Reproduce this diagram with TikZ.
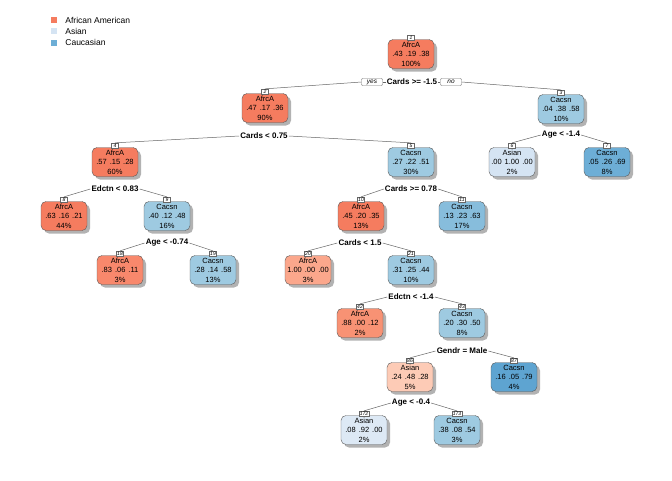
\documentclass[tikz,border=0pt]{standalone}
\usepackage{fontspec}
\setmainfont{Liberation Sans}
\usetikzlibrary{positioning,shadows}
\definecolor{afrA}{HTML}{F57C5F}
\definecolor{afrB}{HTML}{F8886C}
\definecolor{afrC}{HTML}{F89274}
\definecolor{afrD}{HTML}{FBA78C}
\definecolor{asnA}{HTML}{D5E4F3}
\definecolor{asnB}{HTML}{DDE9F5}
\definecolor{asnP}{HTML}{FDCBB6}
\definecolor{cauA}{HTML}{9ECAE1}
\definecolor{cauB}{HTML}{87BDDC}
\definecolor{cauC}{HTML}{6DAED6}
\definecolor{cauD}{HTML}{5EA4D1}
\newcommand{\prs}[3]{#1\hspace{3pt}#2\hspace{3pt}#3}

\begin{document}
\begin{tikzpicture}[x=1pt,y=-1pt,
    leaf/.style={draw=black!65, rounded corners=5pt, minimum width=46pt, minimum height=29pt,
        inner xsep=1.5pt, inner ysep=2pt, align=center, font=\fontsize{7.5}{9.5}\selectfont,
        drop shadow={shadow xshift=3pt, shadow yshift=-3pt, opacity=.3, fill=black}},
    num/.style={draw=black!60, fill=white, inner sep=.6pt, minimum width=7pt, minimum height=5.5pt,
        font=\fontsize{5}{5}\selectfont\itshape},
    split/.style={inner sep=1pt, font=\fontsize{8}{10}\selectfont\bfseries},
    yesno/.style={draw=black!55, fill=white, rounded corners=1pt, minimum width=21pt, minimum height=7pt,
        inner sep=.5pt, font=\fontsize{6.5}{7}\selectfont\itshape},
    edge/.style={draw=black!60, line width=.5pt},
    key/.style={minimum size=6pt, inner sep=0pt},
    keytext/.style={inner sep=0pt, anchor=west, font=\fontsize{8.5}{10}\selectfont}]
    \useasboundingbox (0,0) rectangle (672,480);

    % legend
    \node[key, fill=afrA] (kA) at (54,20) {};
    \node[key, fill=asnA, below=5pt of kA] (kB) {};
    \node[key, fill=cauC, below=5pt of kB] (kC) {};
    \node[keytext, right=8pt of kA] {African American};
    \node[keytext, right=8pt of kB] {Asian};
    \node[keytext, right=8pt of kC] {Caucasian};

    % tree nodes
    \node[leaf, fill=afrA] (n1) at (411,54) {AfrcA\\\prs{.43}{.19}{.38}\\100\%};
    \node[leaf, fill=afrA] (n2) at (265,108) {AfrcA\\\prs{.47}{.17}{.36}\\90\%};
    \node[leaf, fill=cauA] (n3) at (561,109) {Cacsn\\\prs{.04}{.38}{.58}\\10\%};
    \node[leaf, fill=afrA] (n4) at (115,162) {AfrcA\\\prs{.57}{.15}{.28}\\60\%};
    \node[leaf, fill=cauA] (n5) at (411,162) {Cacsn\\\prs{.27}{.22}{.51}\\30\%};
    \node[leaf, fill=asnA] (n6) at (512,162) {Asian\\\prs{.00}{1.00}{.00}\\2\%};
    \node[leaf, fill=cauC] (n7) at (607,162) {Cacsn\\\prs{.05}{.26}{.69}\\8\%};
    \node[leaf, fill=afrA] (n8) at (64,216) {AfrcA\\\prs{.63}{.16}{.21}\\44\%};
    \node[leaf, fill=cauA] (n9) at (167,216) {Cacsn\\\prs{.40}{.12}{.48}\\16\%};
    \node[leaf, fill=afrA] (n10) at (361,216) {AfrcA\\\prs{.45}{.20}{.35}\\13\%};
    \node[leaf, fill=cauB] (n11) at (462,216) {Cacsn\\\prs{.13}{.23}{.63}\\17\%};
    \node[leaf, fill=afrB] (n18) at (120,270) {AfrcA\\\prs{.83}{.06}{.11}\\3\%};
    \node[leaf, fill=cauA] (n19) at (213,270) {Cacsn\\\prs{.28}{.14}{.58}\\13\%};
    \node[leaf, fill=afrD] (n20) at (308,270) {AfrcA\\\prs{1.00}{.00}{.00}\\3\%};
    \node[leaf, fill=cauA] (n21) at (411,270) {Cacsn\\\prs{.31}{.25}{.44}\\10\%};
    \node[leaf, fill=afrC] (n42) at (360,323) {AfrcA\\\prs{.88}{.00}{.12}\\2\%};
    \node[leaf, fill=cauA] (n43) at (462,323) {Cacsn\\\prs{.20}{.30}{.50}\\8\%};
    \node[leaf, fill=asnP] (n86) at (410,377) {Asian\\\prs{.24}{.48}{.28}\\5\%};
    \node[leaf, fill=cauD] (n87) at (514,377) {Cacsn\\\prs{.16}{.05}{.79}\\4\%};
    \node[leaf, fill=asnB] (n172) at (364,430) {Asian\\\prs{.08}{.92}{.00}\\2\%};
    \node[leaf, fill=cauA] (n173) at (457,430) {Cacsn\\\prs{.38}{.08}{.54}\\3\%};

    % node numbers
    \foreach \k in {1,2,3,4,5,6,7,8,9,10,11,18,19,20,21,42,43,86,87,172,173}
        \node[num] (l\k) at ([yshift=1.5pt]n\k.north) {\k};

    % split labels
    \node[split] (s1) at (412,82) {Cards >= -1.5};
    \node[yesno] (yes) at (372,82) {yes};
    \node[yesno] (no) at (451,82) {no};
    \node[split] (s2) at (264,136) {Cards < 0.75};
    \node[split] (s3) at (561,135) {Age < -1.4};
    \node[split] (s4) at (115,189) {Edctn < 0.83};
    \node[split] (s5) at (411,189) {Cards >= 0.78};
    \node[split] (s9) at (167,243) {Age < -0.74};
    \node[split] (s10) at (360,243) {Cards < 1.5};
    \node[split] (s21) at (411,297) {Edctn < -1.4};
    \node[split] (s43) at (462,351) {Gendr = Male};
    \node[split] (s86) at (411,403) {Age < -0.4};

    % connectors
    \draw[edge] (l2.north) -- (yes.west);
    \draw[edge] (yes.east) -- (s1.west);
    \draw[edge] (s1.east) -- (no.west);
    \draw[edge] (no.east) -- (l3.north);
    \draw[edge] (l4.north) -- (s2.west) (s2.east) -- (l5.north);
    \draw[edge] (l6.north) -- (s3.west) (s3.east) -- (l7.north);
    \draw[edge] (l8.north) -- (s4.west) (s4.east) -- (l9.north);
    \draw[edge] (l10.north) -- (s5.west) (s5.east) -- (l11.north);
    \draw[edge] (l18.north) -- (s9.west) (s9.east) -- (l19.north);
    \draw[edge] (l20.north) -- (s10.west) (s10.east) -- (l21.north);
    \draw[edge] (l42.north) -- (s21.west) (s21.east) -- (l43.north);
    \draw[edge] (l86.north) -- (s43.west) (s43.east) -- (l87.north);
    \draw[edge] (l172.north) -- (s86.west) (s86.east) -- (l173.north);
\end{tikzpicture}
\end{document}
